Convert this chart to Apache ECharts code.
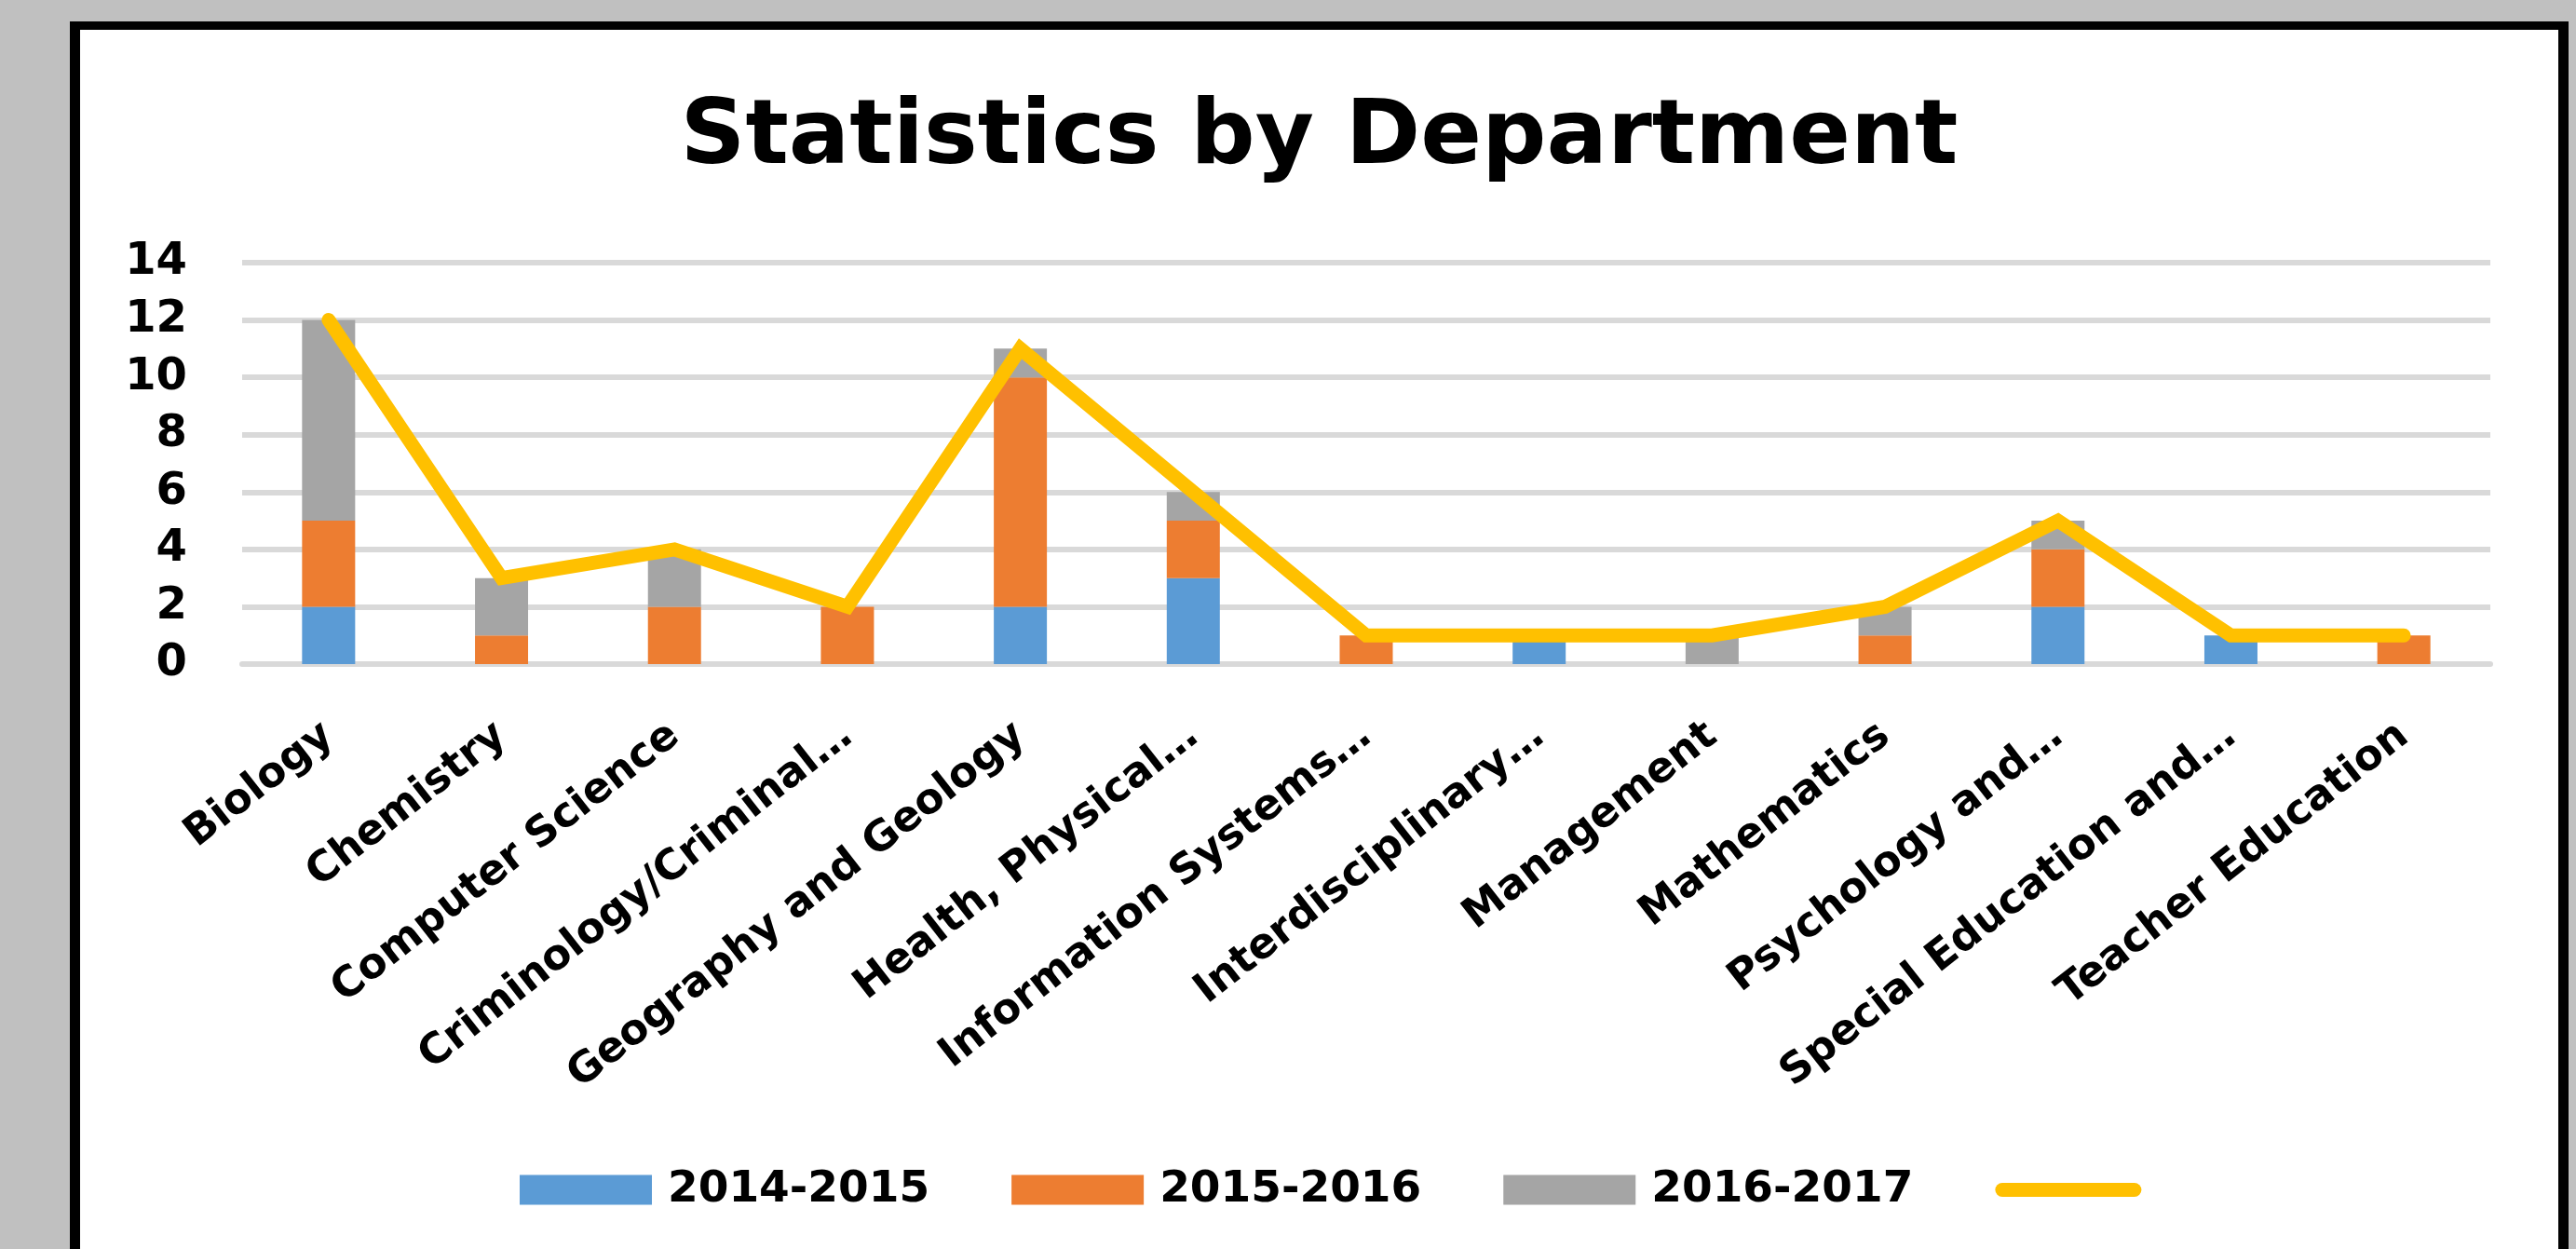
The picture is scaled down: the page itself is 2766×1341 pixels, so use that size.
<!DOCTYPE html>
<html>
<head>
<meta charset="utf-8">
<title>Statistics by Department</title>
<script src="https://cdn.jsdelivr.net/npm/echarts@6/dist/echarts.min.js"></script>
<style>
  html, body { margin: 0; padding: 0; }
  body { width: 2766px; height: 1341px; background: #c0c0c0; overflow: hidden; position: relative; }
  .frame {
    position: absolute; left: 75px; top: 23px;
    width: 2661px; height: 1400px;
    background: #fff;
    border: solid #000; border-width: 9px 11px 0 11px;
  }
  #chart { position: absolute; left: 86px; top: 0; width: 2661px; height: 1341px; }
</style>
</head>
<body>
<div class="frame"></div>
<div id="chart"></div>
<script>
const departments = [
  'Biology', 'Chemistry', 'Computer Science', 'Criminology/Criminal…',
  'Geography and Geology', 'Health, Physical…', 'Information Systems…',
  'Interdisciplinary…', 'Management', 'Mathematics', 'Psychology and…',
  'Special Education and…', 'Teacher Education'
]
const seriesNames = ['2014-2015', '2015-2016', '2016-2017']
const y2014 = [2, 0, 0, 0, 2, 3, 0, 1, 0, 0, 2, 1, 0]
const y2015 = [3, 1, 2, 2, 8, 2, 1, 0, 0, 1, 2, 0, 1]
const y2016 = [7, 2, 2, 0, 1, 1, 0, 0, 1, 1, 1, 0, 0]
// the yellow line is the department total
const totals = [12, 3, 4, 2, 11, 6, 1, 1, 1, 2, 5, 1, 1]

const font = 'DejaVu Sans'
const barColors = ['#5B9BD5', '#ED7D31', '#A5A5A5']
const lineColor = '#FFC000'
const gridColor = '#D9D9D9'

const chart = echarts.init(document.getElementById('chart'))

const barSeries = [y2014, y2015, y2016].map((values, i) => ({
  name: seriesNames[i],
  type: 'bar',
  stack: 'dept',
  barWidth: 57,
  data: values,
  itemStyle: { color: barColors[i] }
}))

const option = {
  animation: false,
  backgroundColor: 'transparent',
  title: {
    text: 'Statistics by Department',
    left: 'center',
    top: 101,
    padding: 0,
    textStyle: { fontFamily: font, fontWeight: 'bold', fontSize: 97, lineHeight: 97, color: '#000' }
  },
  legend: {
    left: 472,
    top: 1254,
    padding: 0,
    itemWidth: 142,
    itemHeight: 32,
    itemGap: 88,
    formatter: name => (name === 'Total' ? '' : name),
    textStyle: {
      fontFamily: font, fontWeight: 'bold', fontSize: 47, color: '#000',
      lineHeight: 32, padding: [0, 0, 0, 12]
    },
    data: [
      { name: seriesNames[0], icon: 'rect' },
      { name: seriesNames[1], icon: 'rect' },
      { name: seriesNames[2], icon: 'rect' },
      // plain line key, no marker dot
      { name: 'Total', itemStyle: { color: 'rgba(0,0,0,0)', borderWidth: 0 }, lineStyle: { width: 15, cap: 'round' } }
    ]
  },
  grid: { left: 174, right: 73, top: 282, bottom: 628 },
  xAxis: {
    type: 'category',
    data: departments,
    axisTick: { show: false },
    axisLine: { lineStyle: { color: gridColor, width: 6 } },
    axisLabel: {
      interval: 0,
      rotate: 38,
      margin: 72,
      fontFamily: font,
      fontWeight: 'bold',
      fontSize: 45,
      color: '#000'
    }
  },
  yAxis: {
    type: 'value',
    min: 0,
    max: 14,
    interval: 2,
    axisLine: { show: false },
    axisTick: { show: false },
    axisLabel: { margin: 59, fontFamily: font, fontWeight: 'bold', fontSize: 48, color: '#000' },
    splitLine: { lineStyle: { color: gridColor, width: 6 } }
  },
  series: [
    ...barSeries,
    {
      name: 'Total',
      type: 'line',
      data: totals,
      symbol: 'none',
      z: 5,
      itemStyle: { color: lineColor },
      lineStyle: { color: lineColor, width: 15, cap: 'round', join: 'miter' }
    }
  ]
}

chart.setOption(option)
</script>
</body>
</html>
